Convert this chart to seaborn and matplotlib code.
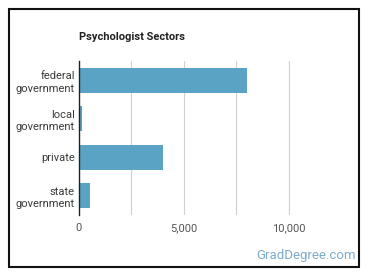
import matplotlib
matplotlib.use("Agg")
import matplotlib.pyplot as plt
import seaborn as sns
import pandas as pd
from matplotlib.patches import Rectangle

categories = ["federal\ngovernment", "local\ngovernment", "private", "state\ngovernment"]
values = [8000, 140, 4000, 520]
tick_values = [0, 5000, 10000]
tick_labels = ["0", "5,000", "10,000"]
title = "Psychologist Sectors"
watermark = "GradDegree.com"

sns.set_theme(style="white")
plt.rcParams["font.family"] = ["Roboto", "DejaVu Sans"]

df = pd.DataFrame({"sector": categories, "count": values})

fig = plt.figure(figsize=(3.7, 2.78), dpi=100)
ax = fig.add_axes([79 / 370, (278 - 215) / 278, (341 - 79) / 370, (215 - 61) / 278])

sns.barplot(data=df, x="count", y="sector", orient="h", color="#5ba3c4",
            saturation=1, width=0.65, ax=ax, edgecolor="none")

ax.set_xlim(0, 12500)
ax.set_ylim(3.5, -0.5)
for xv in [2500, 5000, 7500, 10000]:
    ax.axvline(xv, color="#d0d0d0", linewidth=0.8, zorder=0)
ax.set_xticks(tick_values)
ax.set_xticklabels(tick_labels, fontsize=8, color="#555555")
ax.set_yticks(range(len(categories)))
ax.set_yticklabels(categories, fontsize=8, color="#3a3a3a", linespacing=1.3)
ax.tick_params(axis="both", length=0, pad=3)
ax.tick_params(axis="x", pad=6)
ax.set_xlabel("")
ax.set_ylabel("")
for s in ["top", "right", "bottom"]:
    ax.spines[s].set_visible(False)
ax.spines["left"].set_color("#222222")
ax.spines["left"].set_linewidth(1.0)
ax.grid(False)

fig.text(79 / 370, 1 - 37 / 278, title, fontsize=8, fontweight="bold",
         color="#222222", ha="left", va="center")
fig.text(356 / 370, 1 - 255 / 278, watermark, fontsize=9.5, color="#7aaccc",
         ha="right", va="center")

fig.patches.append(Rectangle((8.5 / 370, 1 - 266.5 / 278), (359 - 8.5) / 370, (266.5 - 8.5) / 278,
                             transform=fig.transFigure, fill=False,
                             edgecolor="#111111", linewidth=1.5))

fig.savefig("out.png", dpi=100)
